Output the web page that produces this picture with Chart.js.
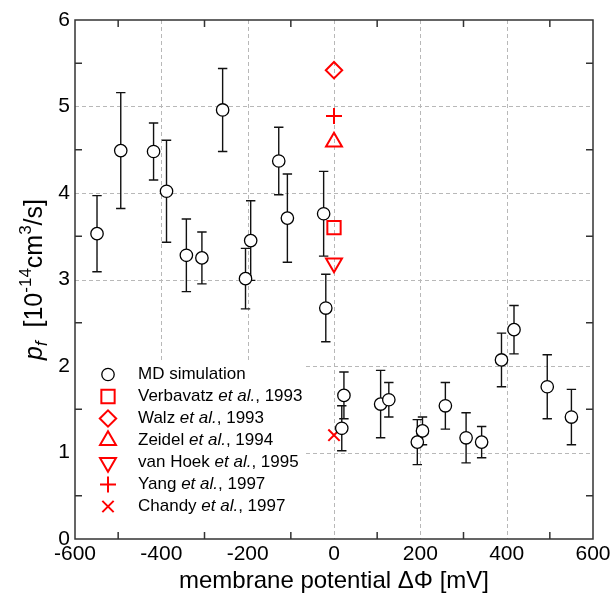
<!DOCTYPE html>
<html>
<head>
<meta charset="utf-8">
<script src="https://cdn.jsdelivr.net/npm/chart.js@4.4.1/dist/chart.umd.min.js"></script>
<style>
  html, body { margin: 0; padding: 0; background: #fff; }
  #wrap { width: 616px; height: 593px; }
</style>
</head>
<body>
<div id="wrap"><canvas id="c" width="616" height="593"></canvas></div>
<script>
// MD simulation: membrane potential [mV], p_f, error
const mdX   = [-549, -494, -418, -388, -342, -306, -258, -205, -193, -128, -108, -24, -19,
               23, 18, 108, 127, 193, 205, 258, 306, 342, 388, 417, 494, 550];
const mdY   = [3.53, 4.49, 4.48, 4.02, 3.28, 3.25, 4.96, 3.01, 3.45, 4.37, 3.71, 3.76, 2.67,
               1.66, 1.28, 1.56, 1.61, 1.12, 1.25, 1.54, 1.17, 1.12, 2.07, 2.42, 1.76, 1.41];
const mdErr = [0.44, 0.67, 0.33, 0.59, 0.42, 0.30, 0.48, 0.35, 0.46, 0.39, 0.51, 0.49, 0.39,
               0.27, 0.26, 0.39, 0.20, 0.26, 0.16, 0.27, 0.29, 0.18, 0.31, 0.28, 0.37, 0.32];

// experiments (all at 0 mV)
const expAuthors = ["Verbavatz ", "Walz ", "Zeidel ", "van Hoek ", "Yang ", "Chandy "];
const expYears   = [", 1993", ", 1993", ", 1994", ", 1995", ", 1997", ", 1997"];
const expX       = [0, 0, 0, 0, 0, 0];
const expY       = [3.60, 5.42, 4.59, 3.19, 4.89, 1.20];
const expStyle   = ["rect", "rectRot", "triangle", "triangle", "cross", "crossRot"];
const expRot     = [0, 0, 0, 180, 0, 0];
const expRadius  = [9.4, 8.2, 9.2, 9.2, 8, 8];

const xGrid = [-400, -200, 0, 200, 400];
const xMinor = [-500, -300, -100, 100, 300, 500];
const yGrid = [1, 2, 3, 4, 5];
const yMinor = [0.5, 1.5, 2.5, 3.5, 4.5, 5.5];

const FONT = '"Liberation Sans", Arial, Helvetica, sans-serif';
const RED = "#ff0000";

const datasets = [{
  label: "MD simulation",
  data: mdX.map((x, i) => ({ x: x, y: mdY[i] })),
  pointStyle: "circle",
  pointRadius: 6.2,
  pointBorderWidth: 1.3,
  pointBorderColor: "#000",
  pointBackgroundColor: "#fff"
}];
expY.forEach((y, i) => {
  datasets.push({
    label: expAuthors[i] + "et al." + expYears[i],
    data: [{ x: expX[i], y: y }],
    pointStyle: expStyle[i],
    rotation: expRot[i],
    pointRadius: expRadius[i],
    pointBorderWidth: 2,
    pointBorderColor: RED,
    pointBackgroundColor: "rgba(0,0,0,0)"
  });
});

// grid, frame, ticks, legend box, error bars
const decor = {
  id: "decor",
  beforeDatasetsDraw(chart) {
    const ctx = chart.ctx, a = chart.chartArea;
    const xs = chart.scales.x, ys = chart.scales.y;
    ctx.save();
    // dashed grid
    ctx.strokeStyle = "#b8b8b8";
    ctx.lineWidth = 1;
    ctx.setLineDash([4, 3]);
    ctx.beginPath();
    xGrid.forEach(v => { const p = Math.round(xs.getPixelForValue(v)) + 0.5; ctx.moveTo(p, a.top); ctx.lineTo(p, a.bottom); });
    yGrid.forEach(v => { const p = Math.round(ys.getPixelForValue(v)) + 0.5; ctx.moveTo(a.left, p); ctx.lineTo(a.right, p); });
    ctx.stroke();
    ctx.setLineDash([]);
    // legend background hides the grid
    ctx.fillStyle = "#fff";
    ctx.fillRect(a.left, 360, 306 - a.left, a.bottom - 360);
    // frame + minor ticks
    ctx.strokeStyle = "#333";
    ctx.lineWidth = 1.5;
    ctx.strokeRect(a.left, a.top, a.right - a.left, a.bottom - a.top);
    ctx.beginPath();
    xMinor.forEach(v => {
      const p = xs.getPixelForValue(v);
      ctx.moveTo(p, a.bottom); ctx.lineTo(p, a.bottom - 7);
      ctx.moveTo(p, a.top); ctx.lineTo(p, a.top + 7);
    });
    yMinor.forEach(v => {
      const p = ys.getPixelForValue(v);
      ctx.moveTo(a.left, p); ctx.lineTo(a.left + 7, p);
      ctx.moveTo(a.right, p); ctx.lineTo(a.right - 7, p);
    });
    ctx.stroke();
    // error bars
    ctx.strokeStyle = "#111";
    ctx.lineWidth = 1.4;
    ctx.beginPath();
    mdX.forEach((x, i) => {
      const px = xs.getPixelForValue(x);
      const t = ys.getPixelForValue(mdY[i] + mdErr[i]);
      const b = ys.getPixelForValue(mdY[i] - mdErr[i]);
      ctx.moveTo(px, t); ctx.lineTo(px, b);
      ctx.moveTo(px - 4.7, t); ctx.lineTo(px + 4.7, t);
      ctx.moveTo(px - 4.7, b); ctx.lineTo(px + 4.7, b);
    });
    ctx.stroke();
    ctx.restore();
  },
  afterDraw(chart) {
    const ctx = chart.ctx, a = chart.chartArea;
    ctx.save();
    // legend
    const lx = 108, tx = 138;
    chart.data.datasets.forEach((ds, i) => {
      const y = 374.5 + 22 * i;
      ctx.strokeStyle = ds.pointBorderColor;
      ctx.fillStyle = ds.pointBackgroundColor;
      ctx.lineWidth = ds.pointBorderWidth;
      Chart.helpers.drawPoint(ctx, { pointStyle: ds.pointStyle, rotation: ds.rotation || 0,
        radius: ds.pointRadius, borderWidth: ds.pointBorderWidth }, lx, y);
      ctx.fillStyle = "#000";
      ctx.textBaseline = "middle";
      ctx.textAlign = "left";
      if (i === 0) {
        ctx.font = "17px " + FONT;
        ctx.fillText(ds.label, tx, y);
      } else {
        let x = tx;
        [[expAuthors[i - 1], ""], ["et al.", "italic "], [expYears[i - 1], ""]].forEach(p => {
          ctx.font = p[1] + "17px " + FONT;
          ctx.fillText(p[0], x, y);
          x += ctx.measureText(p[0]).width;
        });
      }
    });
    // x title
    ctx.font = "24px " + FONT;
    ctx.textAlign = "center";
    ctx.textBaseline = "alphabetic";
    ctx.fillText("membrane potential \u0394\u03A6 [mV]", (a.left + a.right) / 2, 588);
    // y title (rotated, rich text)
    const parts = [
      ["p", "italic 25px", 0], ["f", "italic 17px", 5], ["  [10", "25px", 0],
      ["-14", "17px", -11], ["cm", "25px", 0], ["3", "17px", -11], ["/s]", "25px", 0]
    ];
    let w = 0;
    parts.forEach(p => { ctx.font = p[1] + " " + FONT; w += ctx.measureText(p[0]).width; });
    ctx.translate(42, (a.top + a.bottom) / 2);
    ctx.rotate(-Math.PI / 2);
    ctx.textAlign = "left";
    let x = -w / 2;
    parts.forEach(p => {
      ctx.font = p[1] + " " + FONT;
      ctx.fillText(p[0], x, p[2]);
      x += ctx.measureText(p[0]).width;
    });
    ctx.restore();
  }
};

new Chart(document.getElementById("c"), {
  type: "scatter",
  data: { datasets: datasets },
  options: {
    responsive: false,
    devicePixelRatio: 1,
    animation: false,
    layout: { padding: { top: 20, right: 23, bottom: 0, left: 0 } },
    plugins: { legend: { display: false }, tooltip: { enabled: false } },
    scales: {
      x: {
        type: "linear", min: -600, max: 600,
        ticks: { stepSize: 200, color: "#000", padding: 3, font: { family: FONT, size: 21 } },
        grid: { display: false, drawTicks: false },
        border: { display: false },
        afterFit: s => { s.height = 54; }
      },
      y: {
        type: "linear", min: 0, max: 6,
        ticks: { stepSize: 1, color: "#000", padding: 5, font: { family: FONT, size: 21 } },
        grid: { display: false, drawTicks: false },
        border: { display: false },
        afterFit: s => { s.width = 75; }
      }
    }
  },
  plugins: [decor]
});
</script>
</body>
</html>
